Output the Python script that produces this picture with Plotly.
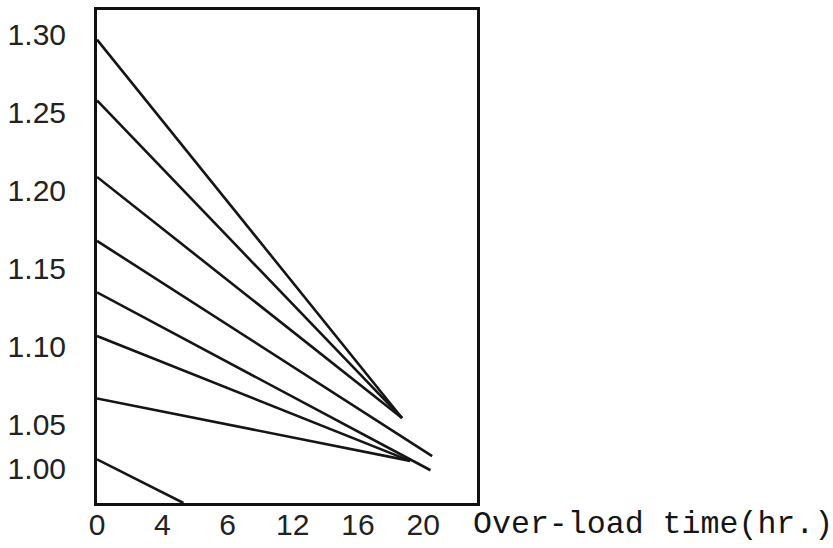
import plotly.graph_objects as go

# Over-load curves: start value at t=0 and end point (time, value)
start_time = [0, 0, 0, 0, 0, 0, 0, 0]
start_value = [1.297, 1.258, 1.209, 1.168, 1.135, 1.107, 1.067, 1.028]
end_time = [18.7, 18.7, 18.7, 20.55, 20.45, 19.2, 19.2, 5.3]
end_value = [1.0545, 1.0545, 1.0545, 1.030, 1.021, 1.027, 1.027, 1.000]

# Axis ticks as printed on the figure ("1.00" is printed a little above the axis bottom)
x_tick_values = [0, 4, 8, 12, 16, 20]
x_tick_labels = ["0", "4", "6", "12", "16", "20"]
y_tick_values = [1.30, 1.25, 1.20, 1.15, 1.10, 1.05, 1.022]
y_tick_labels = ["1.30", "1.25", "1.20", "1.15", "1.10", "1.05", "1.00"]
x_title = "Over-load time(hr.)"

fig = go.Figure()
for i in range(len(start_value)):
    fig.add_trace(go.Scatter(
        x=[start_time[i], end_time[i]],
        y=[start_value[i], end_value[i]],
        mode="lines",
        line=dict(color="#151515", width=2.6),
        showlegend=False,
        hoverinfo="skip",
    ))

fig.update_layout(
    width=833, height=548,
    margin=dict(l=97, r=356, t=7, b=43),
    paper_bgcolor="white",
    plot_bgcolor="white",
    font=dict(family="Liberation Sans, Arial, sans-serif", color="#222222"),
)
fig.update_xaxes(
    range=[0, 23.3],
    tickvals=x_tick_values, ticktext=x_tick_labels,
    ticks="", showgrid=False, zeroline=False,
    showline=True, mirror=True, linecolor="#111111", linewidth=3,
    tickfont=dict(size=30, family="Liberation Sans, Arial, sans-serif", color="#222222"),
    ticklabelstandoff=-7,
)
fig.update_yaxes(
    range=[1.0, 1.316],
    tickvals=y_tick_values, ticktext=y_tick_labels,
    ticks="", showgrid=False, zeroline=False,
    showline=True, mirror=True, linecolor="#111111", linewidth=3,
    tickfont=dict(size=30, family="Liberation Sans, Arial, sans-serif", color="#222222"),
    ticklabelstandoff=22,
)
fig.add_annotation(
    text=x_title, xref="paper", yref="paper",
    x=0.983, y=-0.043, xanchor="left", yanchor="middle",
    showarrow=False,
    font=dict(size=31.6, family="Liberation Mono, Courier New, monospace", color="#151515"),
)
fig.write_html(
    "out.html",
    config={"displayModeBar": False},
    post_script="document.body.style.margin='0';document.body.style.overflow='hidden';",
)
